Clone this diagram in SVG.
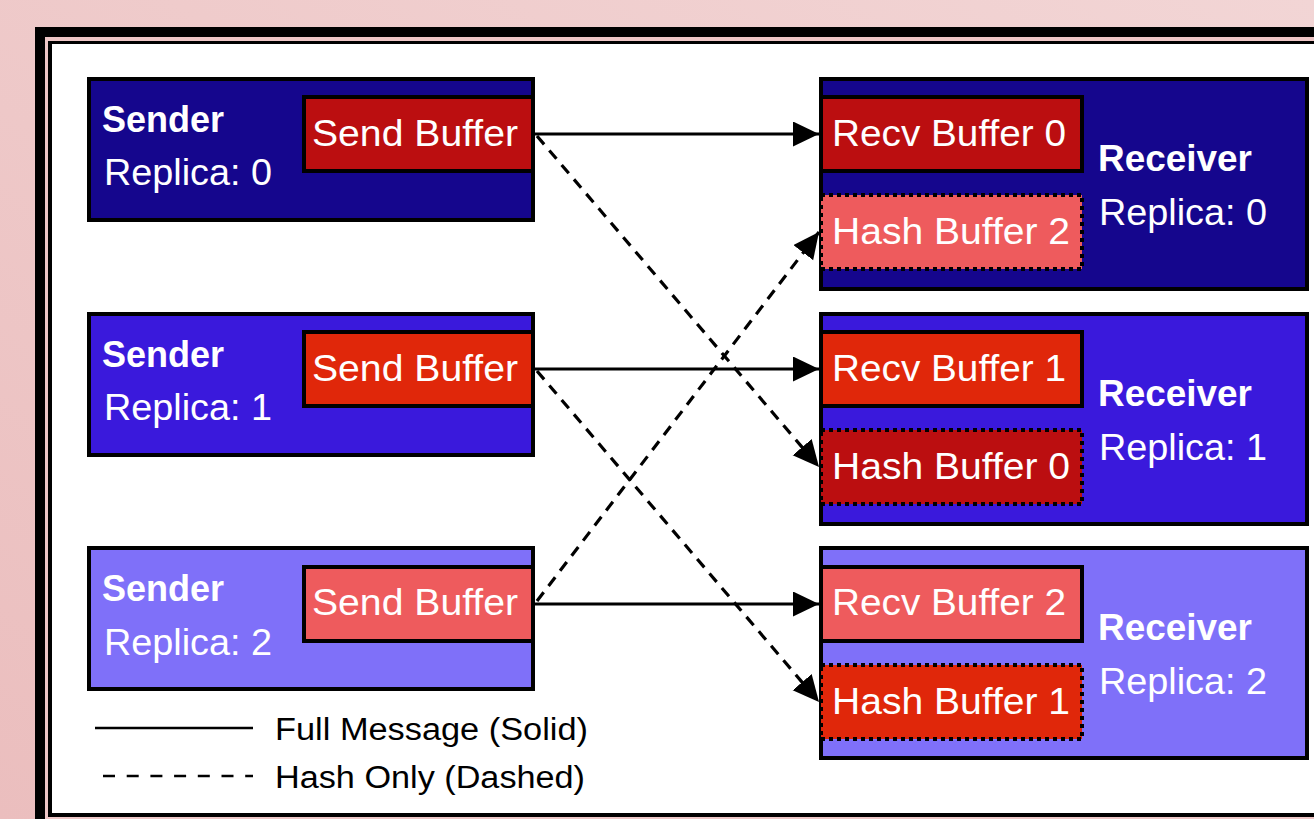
<svg xmlns="http://www.w3.org/2000/svg" width="1314" height="819" viewBox="0 0 1314 819">
  <defs>
    <linearGradient id="bgGrad" x1="0" y1="1" x2="1" y2="0">
      <stop offset="0" stop-color="#EBBEBE"/>
      <stop offset="1" stop-color="#F2D5D5"/>
    </linearGradient>
    <marker id="arrowHead" markerUnits="userSpaceOnUse" markerWidth="27" markerHeight="26" refX="26" refY="12.5" orient="auto">
      <path d="M0,0 L26,12.5 L0,25 Z" fill="#000"/>
    </marker>
    <style>
      .box { stroke: #000; stroke-width: 4; }
      .hash { stroke: #000; stroke-width: 4; stroke-dasharray: 4 4; }
      .c0 { fill: #15068D; }
      .c1 { fill: #3A19DC; }
      .c2 { fill: #7F70F9; }
      .b0 { fill: #BB0E10; }
      .b1 { fill: #E0270A; }
      .b2 { fill: #EE5B5D; }
      text { font-family: "Liberation Sans", Arial, sans-serif; }
      .title { fill: #fff; font-size: 36px; font-weight: bold; }
      .sub { fill: #fff; font-size: 36px; }
      .buf { fill: #fff; font-size: 37.5px; }
      .legend { fill: #000; font-size: 31px; }
      .solid { stroke: #000; stroke-width: 3; fill: none; }
      .dashed { stroke: #000; stroke-width: 3.2; fill: none; stroke-dasharray: 11 8; }
    </style>
  </defs>

  <!-- page background and double frame -->
  <rect x="0" y="0" width="1314" height="819" fill="url(#bgGrad)"/>
  <rect x="35" y="27" width="1400" height="803" fill="#000"/>
  <rect x="45" y="37" width="1400" height="783" fill="#EDC6C6"/>
  <rect x="48" y="41" width="1400" height="776" fill="#000"/>
  <rect x="52" y="44" width="1400" height="769" fill="#fff"/>

  <!-- senders -->
  <g id="sender0">
    <rect class="box c0" x="89" y="79" width="444" height="141"/>
    <text class="title" x="102" y="132">Sender</text>
    <text class="sub" x="104" y="185" textLength="168" lengthAdjust="spacingAndGlyphs">Replica: 0</text>
    <g id="sendBuffer0">
      <rect class="box b0" x="304" y="97" width="229" height="74"/>
      <text class="buf" x="312" y="146" textLength="206" lengthAdjust="spacingAndGlyphs">Send Buffer</text>
    </g>
  </g>
  <g id="sender1">
    <rect class="box c1" x="89" y="314" width="444" height="141"/>
    <text class="title" x="102" y="367">Sender</text>
    <text class="sub" x="104" y="420" textLength="168" lengthAdjust="spacingAndGlyphs">Replica: 1</text>
    <g id="sendBuffer1">
      <rect class="box b1" x="304" y="332" width="229" height="74"/>
      <text class="buf" x="312" y="381" textLength="206" lengthAdjust="spacingAndGlyphs">Send Buffer</text>
    </g>
  </g>
  <g id="sender2">
    <rect class="box c2" x="89" y="548" width="444" height="141"/>
    <text class="title" x="102" y="601">Sender</text>
    <text class="sub" x="104" y="655" textLength="168" lengthAdjust="spacingAndGlyphs">Replica: 2</text>
    <g id="sendBuffer2">
      <rect class="box b2" x="304" y="567" width="229" height="74"/>
      <text class="buf" x="312" y="615" textLength="206" lengthAdjust="spacingAndGlyphs">Send Buffer</text>
    </g>
  </g>

  <!-- receivers -->
  <g id="receiver0">
    <rect class="box c0" x="821" y="79" width="486" height="210"/>
    <text class="title" x="1098" y="171" textLength="154" lengthAdjust="spacingAndGlyphs">Receiver</text>
    <text class="sub" x="1099" y="225" textLength="168" lengthAdjust="spacingAndGlyphs">Replica: 0</text>
    <g id="recvBuffer0">
      <rect class="box b0" x="821" y="97" width="261" height="74"/>
      <text class="buf" x="832" y="146" textLength="234" lengthAdjust="spacingAndGlyphs">Recv Buffer 0</text>
    </g>
    <g id="hashBuffer2">
      <rect class="hash b2" x="821" y="195" width="261" height="74"/>
      <text class="buf" x="832" y="244" textLength="238" lengthAdjust="spacingAndGlyphs">Hash Buffer 2</text>
    </g>
  </g>
  <g id="receiver1">
    <rect class="box c1" x="821" y="314" width="486" height="210"/>
    <text class="title" x="1098" y="406" textLength="154" lengthAdjust="spacingAndGlyphs">Receiver</text>
    <text class="sub" x="1099" y="460" textLength="168" lengthAdjust="spacingAndGlyphs">Replica: 1</text>
    <g id="recvBuffer1">
      <rect class="box b1" x="821" y="332" width="261" height="74"/>
      <text class="buf" x="832" y="381" textLength="234" lengthAdjust="spacingAndGlyphs">Recv Buffer 1</text>
    </g>
    <g id="hashBuffer0">
      <rect class="hash b0" x="821" y="430" width="261" height="74"/>
      <text class="buf" x="832" y="479" textLength="238" lengthAdjust="spacingAndGlyphs">Hash Buffer 0</text>
    </g>
  </g>
  <g id="receiver2">
    <rect class="box c2" x="821" y="548" width="486" height="210"/>
    <text class="title" x="1098" y="640" textLength="154" lengthAdjust="spacingAndGlyphs">Receiver</text>
    <text class="sub" x="1099" y="694" textLength="168" lengthAdjust="spacingAndGlyphs">Replica: 2</text>
    <g id="recvBuffer2">
      <rect class="box b2" x="821" y="567" width="261" height="74"/>
      <text class="buf" x="832" y="615" textLength="234" lengthAdjust="spacingAndGlyphs">Recv Buffer 2</text>
    </g>
    <g id="hashBuffer1">
      <rect class="hash b1" x="821" y="665" width="261" height="74"/>
      <text class="buf" x="832" y="714" textLength="238" lengthAdjust="spacingAndGlyphs">Hash Buffer 1</text>
    </g>
  </g>

  <!-- connectors: solid = full message, dashed = hash only -->
  <g id="connectors">
    <line class="solid" x1="535" y1="134" x2="819" y2="134" marker-end="url(#arrowHead)"/>
    <line class="solid" x1="535" y1="369" x2="819" y2="369" marker-end="url(#arrowHead)"/>
    <line class="solid" x1="535" y1="604" x2="819" y2="604" marker-end="url(#arrowHead)"/>
    <line class="dashed" x1="537" y1="136" x2="819" y2="467" marker-end="url(#arrowHead)"/>
    <line class="dashed" x1="537" y1="371" x2="819" y2="702" marker-end="url(#arrowHead)"/>
    <line class="dashed" x1="537" y1="601" x2="819" y2="232" marker-end="url(#arrowHead)"/>
  </g>

  <!-- legend -->
  <g id="legend">
    <line x1="95" y1="728" x2="253" y2="728" stroke="#000" stroke-width="2.5"/>
    <line x1="103" y1="776" x2="253" y2="776" stroke="#000" stroke-width="2.5" stroke-dasharray="12 11.7"/>
    <text class="legend" x="275" y="740" textLength="313" lengthAdjust="spacingAndGlyphs">Full Message (Solid)</text>
    <text class="legend" x="275" y="788" textLength="310" lengthAdjust="spacingAndGlyphs">Hash Only (Dashed)</text>
  </g>
</svg>
